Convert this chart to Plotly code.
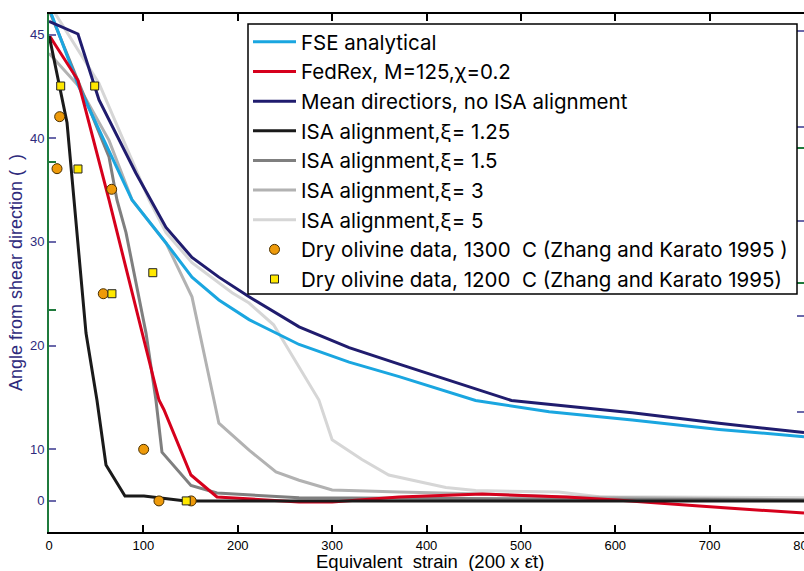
import plotly.graph_objects as go

# ---------------- data ----------------
# y values are in the plot's own linear axis units (tick labels below)
fse_x = [0, 31.8, 88, 124, 151.5, 180, 212, 265, 318, 371, 452, 530, 618, 710, 800]
fse_y = [52.6, 44.95, 34.05, 29.9, 26.6, 24.4, 22.5, 20.1, 18.4, 17.0, 14.7, 13.6, 12.8, 11.9, 11.2]

fedrex_x = [0, 30.7, 63.6, 116.5, 121.8, 150.4, 178, 265, 300, 371, 459, 548, 601, 689, 800]
fedrex_y = [49.97, 45.6, 34.05, 14.74, 13.8, 7.5, 5.38, 4.9, 4.9, 5.38, 5.67, 5.38, 5.1, 4.5, 3.83]

mean_x = [0, 30.7, 53, 92, 124, 151.5, 180, 212, 265, 318, 371, 490, 618, 710, 800]
mean_y = [51.3, 50.07, 43.7, 36.65, 31.4, 28.5, 26.6, 24.7, 21.8, 19.8, 18.2, 14.7, 13.5, 12.5, 11.6]

isa125_x = [0, 19.1, 26.5, 39.2, 50.8, 60.4, 80.5, 100.6, 145, 800]
isa125_y = [49.97, 41.5, 34.05, 21.2, 14.74, 8.47, 5.47, 5.47, 5.0, 5.0]

isa15_x = [0, 63.6, 72, 81.6, 102.8, 113.3, 119.7, 150.4, 178, 265, 800]
isa15_y = [52.4, 38.2, 34.05, 30.9, 21.2, 14.74, 9.7, 6.5, 5.76, 5.3, 5.1]

isa3_x = [0, 31.8, 63.6, 88, 124, 151.5, 174.8, 180, 212, 240.5, 265, 300, 371, 459, 540, 800]
isa3_y = [48.2, 45.0, 39.8, 34.05, 29.9, 24.7, 14.74, 12.5, 9.9, 7.8, 7.0, 6.05, 5.86, 5.67, 5.4, 5.1]

isa5_x = [0, 53, 106, 124, 151.5, 194, 212, 238, 286, 300, 331.6, 360, 420.5, 452, 540, 583, 800]
isa5_y = [53.0, 45.3, 34.05, 30.9, 28.0, 25.1, 24.1, 22.0, 14.74, 10.9, 9.0, 7.5, 6.3, 6.0, 5.86, 5.4, 5.3]

dry1300_x = [11.3, 8.5, 66.4, 57.5, 100.3, 116.5, 150.7]
dry1300_y = [42.09, 37.07, 35.08, 25.0, 9.98, 5.0, 5.0]

dry1200_x = [12.4, 48.4, 30.7, 66.7, 110, 145.4]
dry1200_y = [45.05, 45.05, 37.04, 25.0, 27.03, 5.0]

x_tickvals = [0, 100, 200, 300, 400, 500, 600, 700, 800]
y_tickvals = [5, 10, 20, 30, 40, 50]
y_ticktext = ["0", "10", "20", "30", "40", "45"]
y_green_left = [37.7, 23.4]
y_blue_right = [50.36, 41.09, 32.0, 22.85, 13.58]
y_green_right = [39.07, 26.0]

names = [
    "FSE analytical",
    "FedRex, M=125,\u03c7=0.2",
    "Mean directiors, no ISA alignment",
    "ISA alignment,\u03be= 1.25",
    "ISA alignment,\u03be= 1.5",
    "ISA alignment,\u03be= 3",
    "ISA alignment,\u03be= 5",
    "Dry olivine data, 1300\u00a0\u00a0C (Zhang and Karato 1995 )",
    "Dry olivine data, 1200\u00a0\u00a0C (Zhang and Karato 1995)",
]

FONT = "Liberation Sans, Arial, Helvetica, sans-serif"
LEGFONT = "Inter, Liberation Sans, Arial, sans-serif"
BLUE = "#2e2a7c"
TICKBLUE = "#6a68aa"
GREEN = "#1f7a3c"

fig = go.Figure()

def line(x, y, name, color, rank):
    fig.add_trace(go.Scatter(x=x, y=y, mode="lines", name=name, legendrank=rank,
                             line=dict(color=color, width=3)))

# draw order (legend order via legendrank)
line(isa5_x, isa5_y, names[6], "#d6d6d6", 7)
line(isa3_x, isa3_y, names[5], "#b2b2b2", 6)
line(isa15_x, isa15_y, names[4], "#7f7f7f", 5)
line(fse_x, fse_y, names[0], "#1aa6e0", 1)
line(mean_x, mean_y, names[2], "#201c6e", 3)
line(fedrex_x, fedrex_y, names[1], "#d6001c", 2)
line(isa125_x, isa125_y, names[3], "#1a1a1a", 4)

fig.add_trace(go.Scatter(x=dry1300_x, y=dry1300_y, mode="markers", name=names[7], legendrank=8,
                         marker=dict(symbol="circle", size=10, color="#ee9a0a",
                                     line=dict(color="#4a3000", width=1))))
fig.add_trace(go.Scatter(x=dry1200_x, y=dry1200_y, mode="markers", name=names[8], legendrank=9,
                         marker=dict(symbol="square", size=8, color="#ffe800",
                                     line=dict(color="#222222", width=1))))

# overlay axes for the extra tick marks
fig.add_trace(go.Scatter(x=[None], y=[None], yaxis="y2", showlegend=False, hoverinfo="skip"))
fig.add_trace(go.Scatter(x=[None], y=[None], yaxis="y3", showlegend=False, hoverinfo="skip"))
fig.add_trace(go.Scatter(x=[None], y=[None], yaxis="y4", showlegend=False, hoverinfo="skip"))

W, H = 804, 571
L, R, T, B = 49, 0, 14, 39
pw, ph = W - L - R, H - T - B

def px_x(p):
    return (p - L) / pw

def px_y(p):
    return (H - B - p) / ph

fig.update_layout(
    width=W, height=H,
    margin=dict(l=L, r=R, t=T, b=B, pad=0, autoexpand=False),
    paper_bgcolor="white", plot_bgcolor="white",
    font=dict(family=FONT, color="black"),
    showlegend=True,
    legend=dict(
        x=px_x(248), y=px_y(22), xanchor="left", yanchor="top",
        bgcolor="rgba(0,0,0,0)", borderwidth=0,
        font=dict(family=LEGFONT, size=20.5, color="black"),
        itemwidth=43, traceorder="normal",
    ),
    xaxis=dict(
        range=[0, 800], tickvals=x_tickvals, showgrid=False, zeroline=False,
        showline=True, linecolor="black", linewidth=2, mirror="ticks",
        ticks="inside", ticklen=7, tickwidth=1.5, tickcolor="black",
        tickfont=dict(family=FONT, size=13, color="black"),
        ticklabeloverflow="allow", automargin=False,
    ),
    yaxis=dict(
        range=[2, 52], tickvals=y_tickvals, ticktext=y_ticktext, showgrid=False,
        zeroline=False, showline=True, linecolor=GREEN, linewidth=2,
        ticks="inside", ticklen=7, tickwidth=1.5, tickcolor=TICKBLUE,
        tickfont=dict(family=FONT, size=13, color=BLUE), automargin=False,
    ),
    yaxis2=dict(range=[2, 52], overlaying="y", side="left", tickvals=y_green_left,
                showticklabels=False, ticks="inside", ticklen=7, tickwidth=1.5,
                tickcolor=GREEN, showgrid=False, zeroline=False, showline=False),
    yaxis3=dict(range=[2, 52], overlaying="y", side="right", tickvals=y_blue_right,
                showticklabels=False, ticks="inside", ticklen=7, tickwidth=1.5,
                tickcolor=TICKBLUE, showgrid=False, zeroline=False, showline=False),
    yaxis4=dict(range=[2, 52], overlaying="y", side="right", tickvals=y_green_right,
                showticklabels=False, ticks="inside", ticklen=7, tickwidth=1.5,
                tickcolor=GREEN, showgrid=False, zeroline=False, showline=False),
    shapes=[dict(type="rect", xref="paper", yref="paper",
                 x0=px_x(248), x1=px_x(797), y0=px_y(294), y1=px_y(24),
                 line=dict(color="black", width=1.5), fillcolor="white", layer="above")],
    annotations=[
        dict(text="Equivalent\u00a0 strain\u00a0 (200 x \u03b5\u0307t)", xref="paper", yref="paper",
             x=px_x(430), y=px_y(561), xanchor="center", yanchor="middle", showarrow=False,
             font=dict(family=FONT, size=18.5, color="black")),
        dict(text="Angle from shear direction (\u00a0\u00a0)", xref="paper", yref="paper",
             x=px_x(16), y=px_y(273), xanchor="center", yanchor="middle", showarrow=False,
             textangle=-90, font=dict(family=FONT, size=18, color=BLUE)),
    ],
)

fig.write_html("out.html")
